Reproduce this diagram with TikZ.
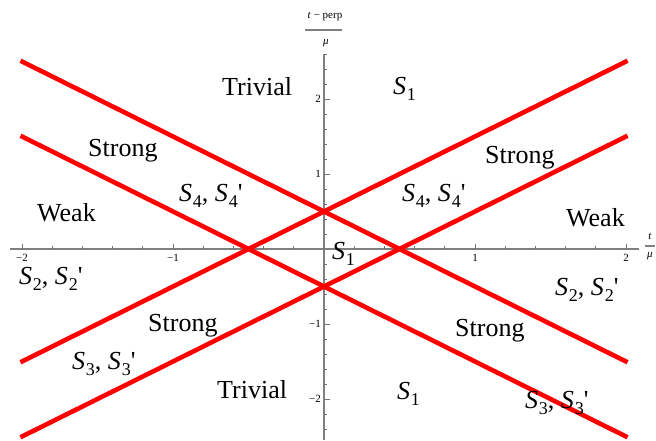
\documentclass[tikz,border=0pt]{standalone}
\usepackage{fontspec}
\setmainfont{Liberation Serif}
\newcommand\Sx[1]{\textit{S}\kern0.03em\raisebox{-0.26em}{\fontsize{18}{18}\selectfont #1}}
\newcommand\Prm{\textquotesingle}
\begin{document}
\begin{tikzpicture}[x=1pt,y=-1pt,
  redline/.style={draw={rgb,255:red,255;green,0;blue,0},line width=4.6pt},
  axisline/.style={draw=black!50,line width=1.1pt},
  tickline/.style={draw=black!55,line width=0.8pt},
  lab/.style={font=\fontsize{26}{30}\selectfont,inner sep=0pt,anchor=base west},
  ticklab/.style={font=\fontsize{11}{13}\selectfont,inner sep=0pt},
  axlab/.style={font=\fontsize{11}{13}\selectfont,inner sep=0pt}]
\useasboundingbox (0,0) rectangle (656,440);
% axes
\coordinate (xl) at (10,249);
\coordinate (xr) at (639,249);
\coordinate (yt) at (324,54);
\coordinate (yb) at (324,440);
\draw[axisline] (xl) -- (xr);
\draw[axisline] (yt) -- (yb);
% x ticks
\foreach \d in {-2,-1.8,...,2.01}{
  \draw[tickline] ({324+151*\d},249) -- ++(0,-3);
}
\foreach \d in {-2,-1,1,2}{
  \draw[tickline] ({324+151*\d},249) -- ++(0,-5.5);
}
% y ticks
\foreach \d in {-2.4,-2.2,...,2.61}{
  \draw[tickline] (324,{249-75*\d}) -- ++(3,0);
}
\foreach \d in {-2,-1,1,2}{
  \draw[tickline] (324,{249-75*\d}) -- ++(5.5,0);
}
% tick labels
\node[ticklab] (tx1) at (22,258) {−2};
\node[ticklab] (tx2) at (173,258) {−1};
\node[ticklab] (tx3) at (475,258) {1};
\node[ticklab] (tx4) at (626,258) {2};
\node[ticklab,anchor=east] (ty1) at (321,99) {2};
\node[ticklab,anchor=east] (ty2) at (321,174) {1};
\node[ticklab,anchor=east] (ty3) at (321,324) {−1};
\node[ticklab,anchor=east] (ty4) at (321,399) {−2};
% axis labels
\node[axlab] (yln) at (325,17) {\textit{t} − perp};
\draw[draw=black!50,line width=1.2pt] (305,30) -- (342,30);
\node[axlab] (yld) at (326,43) {\textit{μ}};
\node[axlab] (xln) at (650,236) {\textit{t}};
\draw[draw=black!50,line width=1.2pt] (645,246) -- (655,246);
\node[axlab] (xld) at (650,256) {\textit{μ}};
% red lines
\coordinate (a1) at (20.5,60.75);  \coordinate (a2) at (627.5,362.25);
\coordinate (b1) at (20.5,135.75); \coordinate (b2) at (627.5,437.25);
\coordinate (c1) at (20.5,362.25); \coordinate (c2) at (627.5,60.75);
\coordinate (d1) at (20.5,437.25); \coordinate (d2) at (627.5,135.75);
\draw[redline] (a1) -- (a2);
\draw[redline] (b1) -- (b2);
\draw[redline] (c1) -- (c2);
\draw[redline] (d1) -- (d2);
% region labels
\node[lab] (l1) at (222,95) {Trivial};
\node[lab] (l2) at (393,94) {\Sx{1}};
\node[lab] (l3) at (88,156) {Strong};
\node[lab] (l4) at (485,163) {Strong};
\node[lab] (l5) at (179,201) {\Sx{4}, \Sx{4}\Prm};
\node[lab] (l6) at (402,201) {\Sx{4}, \Sx{4}\Prm};
\node[lab] (l7) at (37,221) {Weak};
\node[lab] (l8) at (566,226) {Weak};
\node[lab] (l9) at (332,259) {\Sx{1}};
\node[lab] (l10) at (19,284) {\Sx{2}, \Sx{2}\Prm};
\node[lab] (l11) at (555,295) {\Sx{2}, \Sx{2}\Prm};
\node[lab] (l12) at (148,331) {Strong};
\node[lab] (l13) at (455,336) {Strong};
\node[lab] (l14) at (72,369) {\Sx{3}, \Sx{3}\Prm};
\node[lab] (l15) at (525,408) {\Sx{3}, \Sx{3}\Prm};
\node[lab] (l16) at (217,398) {Trivial};
\node[lab] (l17) at (397,399) {\Sx{1}};
\end{tikzpicture}
\end{document}
